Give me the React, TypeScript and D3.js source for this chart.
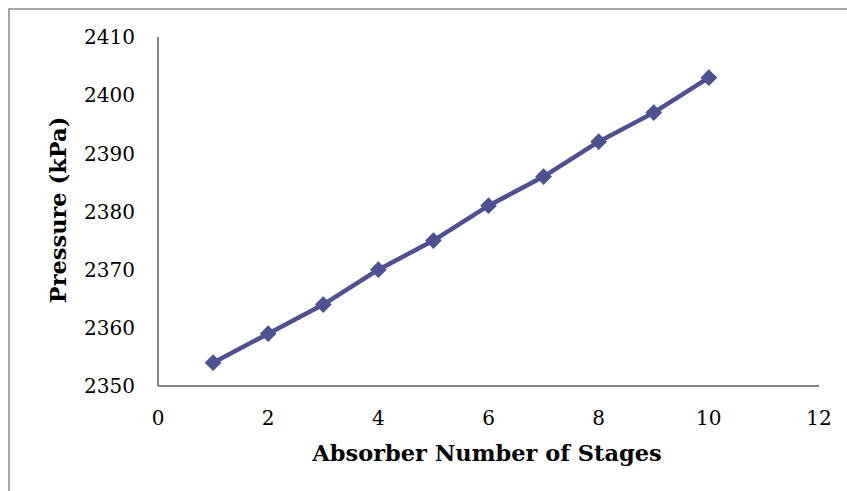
import React from "react";
import * as d3 from "d3";

const stages = [1, 2, 3, 4, 5, 6, 7, 8, 9, 10];
const pressure = [2354, 2359, 2364, 2370, 2375, 2381, 2386, 2392, 2397, 2403];
const xTicks = [0, 2, 4, 6, 8, 10, 12];
const yTicks = [2350, 2360, 2370, 2380, 2390, 2400, 2410];

const W = 847;
const H = 491;
const FONT = "'DejaVu Serif', Georgia, serif";
const COLOR = "#4e5191";

export default function App() {
  const x = d3.scaleLinear().domain([0, 12]).range([158, 819]);
  const y = d3.scaleLinear().domain([2350, 2410]).range([386, 37]);
  const line = d3
    .line<number>()
    .x((_, i) => x(stages[i]))
    .y((d) => y(d));
  const marker = d3.symbol(d3.symbolSquare, 140)();

  return (
    <svg
      width={W}
      height={H}
      style={{ position: "absolute", left: 0, top: 0, background: "#fff" }}
    >
      <rect x={9} y={9} width={W + 20} height={H + 20} fill="#fff" stroke="#8c8c8c" strokeWidth={1.5} />
      <line x1={x(0)} x2={x(0)} y1={y(2410)} y2={y(2350)} stroke="#868686" strokeWidth={2} />
      <line x1={x(0)} x2={x(12)} y1={y(2350)} y2={y(2350)} stroke="#868686" strokeWidth={2} />
      {yTicks.map((t) => (
        <text
          key={t}
          x={135}
          y={y(t)}
          dy="0.36em"
          textAnchor="end"
          fontFamily={FONT}
          fontSize={20}
          fill="#000"
        >
          {t}
        </text>
      ))}
      {xTicks.map((t) => (
        <text
          key={t}
          x={x(t)}
          y={425}
          textAnchor="middle"
          fontFamily={FONT}
          fontSize={20}
          fill="#000"
        >
          {t}
        </text>
      ))}
      <text
        x={487}
        y={461}
        textAnchor="middle"
        fontFamily={FONT}
        fontSize={22.5}
        fontWeight="bold"
        fill="#000"
      >
        Absorber Number of Stages
      </text>
      <text
        transform={`translate(66,210) rotate(-90)`}
        textAnchor="middle"
        fontFamily={FONT}
        fontSize={22.5}
        fontWeight="bold"
        fill="#000"
      >
        Pressure (kPa)
      </text>
      <path d={line(pressure) || ""} fill="none" stroke={COLOR} strokeWidth={4.5} strokeLinejoin="round" />
      {pressure.map((p, i) => (
        <path
          key={i}
          d={marker || ""}
          transform={`translate(${x(stages[i])},${y(p)}) rotate(45)`}
          fill={COLOR}
        />
      ))}
    </svg>
  );
}
